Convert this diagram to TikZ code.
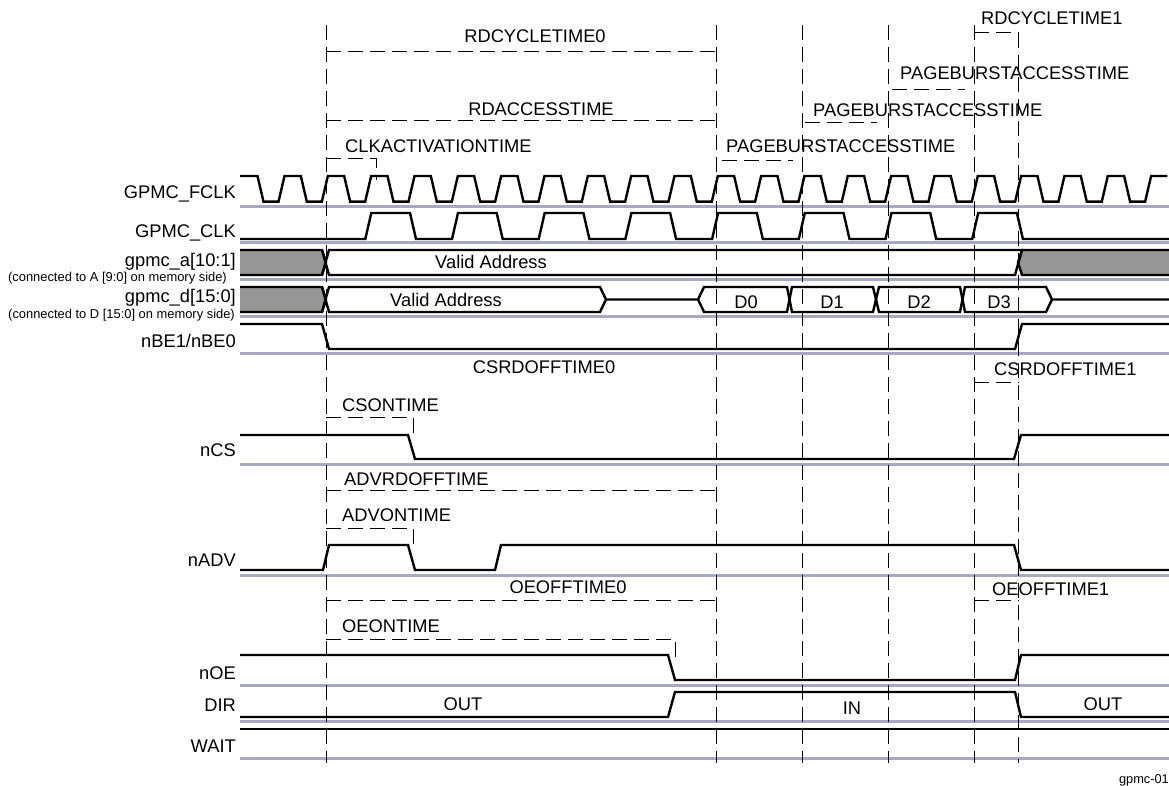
\documentclass[tikz,border=0pt]{standalone}
\usepackage{fontspec}
\setmainfont{Liberation Sans}
\definecolor{guidegray}{RGB}{166,168,198}
\definecolor{busgray}{RGB}{150,150,150}
\tikzset{
  sig/.style={line width=2.4pt,black,line join=miter},
  guide/.style={line width=3pt,guidegray},
  tick/.style={line width=1pt,black,dash pattern=on 15pt off 7pt},
  lab/.style={inner sep=0pt,anchor=base,font=\fontsize{18.3}{20}\selectfont},
  siglab/.style={lab,anchor=base east},
  timelab/.style={lab,anchor=base west},
  smalllab/.style={inner sep=0pt,anchor=base east,font=\fontsize{12.9}{14}\selectfont}
}
\begin{document}
\begin{tikzpicture}[x=1pt,y=-1pt]
  \useasboundingbox (0,0) rectangle (1169,786);
  \foreach \y in {206.5,243,279.5,316.5,353,464,575,685,721.5,758}
    \draw[guide] (240,\y) -- (1169,\y);
  \draw[tick] (326,25) -- (326,763);
  \draw[tick] (716,25) -- (716,763);
  \draw[tick] (802,25) -- (802,763);
  \draw[tick] (888.5,25) -- (888.5,763);
  \draw[tick] (974,25) -- (974,763);
  \draw[tick] (1018.5,33) -- (1018.5,763);
  \draw[tick] (326,52) -- (721,52);
  \draw[tick] (326,121) -- (721,121);
  \draw[tick] (326,159) -- (376,159) -- (376,180);
  \draw[tick] (722,161) -- (793,161);
  \draw[tick] (805,123) -- (877,123);
  \draw[tick] (892,90) -- (965,90);
  \draw[tick] (974,33) -- (1018.5,33);
  \draw[tick] (974,382) -- (1018.5,382);
  \draw[tick] (326,417) -- (413,417) -- (413,437);
  \draw[tick] (326,490) -- (716,490);
  \draw[tick] (326,528) -- (413,528) -- (413,547);
  \draw[tick] (326,600) -- (716,600);
  \draw[tick] (974,600) -- (1018.5,600);
  \draw[tick] (326,639) -- (675,639) -- (675,660);
  \draw[sig] (240,176) -- (257.5,176)
    \foreach \k in {0,...,20} { -- ++(6,25.7) -- ++(15,0) -- ++(6,-25.7) -- ++(16.33,0) };
  \draw[sig] (240,239) -- (365.3,239)
    \foreach \k in {1,...,8} { -- ++(6,-26) -- ++(38.7,0) -- ++(6,26) -- ++(36,0) } -- (1169,239);
  \draw[sig,fill=busgray] (240,250) -- (322,250) -- (326,262.5) -- (322,275) -- (240,275);
  \draw[sig,fill=busgray] (1169,250) -- (1022,250) -- (1018,262.5) -- (1022,275) -- (1169,275);
  \draw[sig] (322,250) -- (329,275) -- (1015,275) -- (1022,250) -- (1015,250) -- (329,250) -- (322,275);
  \draw[sig,fill=busgray] (240,287) -- (322,287) -- (326,299.5) -- (322,312) -- (240,312);
  \draw[sig] (322,287) -- (329,312) -- (600,312) -- (606,299.5) -- (600,287) -- (329,287) -- (322,312);
  \draw[sig] (606,299.5) -- (698,299.5) -- (704,287) -- (787,287) -- (792,312) -- (873,312) -- (879,287) -- (960,287) -- (965,312) -- (1046,312) -- (1052,299.5) -- (1169,299.5);
  \draw[sig] (698,299.5) -- (704,312) -- (787,312) -- (792,287) -- (873,287) -- (879,312) -- (960,312) -- (965,287) -- (1046,287) -- (1052,299.5);
  \draw[sig] (240,324) -- (322,324) -- (329,349) -- (1015,349) -- (1022,324) -- (1169,324);
  \draw[sig] (240,435) -- (408,435) -- (415,459) -- (1014,459) -- (1021,435) -- (1169,435);
  \draw[sig] (240,570) -- (323,570) -- (329,545) -- (408,545) -- (415,570) -- (495,570) -- (501,545) -- (1014,545) -- (1021,570) -- (1169,570);
  \draw[sig] (240,655) -- (668,655) -- (675,680) -- (1015,680) -- (1021,655) -- (1169,655);
  \draw[sig] (240,717) -- (668,717) -- (675,692) -- (1015,692) -- (1021,717) -- (1169,717);
  \draw[sig] (240,729) -- (1169,729);
  \node[siglab] (fclk) at (236,199) {GPMC\_FCLK};
  \node[siglab] (clk) at (236,238) {GPMC\_CLK};
  \node[siglab] (addr) at (236,266) {gpmc\_a[10:1]};
  \node[smalllab] (addrnote) at (227,281.5) {(connected to A [9:0] on memory side)};
  \node[siglab] (data) at (236,302) {gpmc\_d[15:0]};
  \node[smalllab] (datanote) at (235,318) {(connected to D [15:0] on memory side)};
  \node[siglab] (nbe) at (236,347) {nBE1/nBE0};
  \node[siglab] (ncs) at (236,456) {nCS};
  \node[siglab] (nadv) at (236,566) {nADV};
  \node[siglab] (noe) at (236,679) {nOE};
  \node[siglab] (dir) at (236,711) {DIR};
  \node[siglab] (wait) at (236,752) {WAIT};
  \node[lab] (rdcycle0) at (535,43) {RDCYCLETIME0};
  \node[timelab] (rdcycle1) at (981,25) {RDCYCLETIME1};
  \node[timelab] (burst2) at (900,80) {PAGEBURSTACCESSTIME};
  \node[timelab] (burst1) at (813,117) {PAGEBURSTACCESSTIME};
  \node[timelab] (burst0) at (726,153) {PAGEBURSTACCESSTIME};
  \node[lab] (rdaccess) at (541,116) {RDACCESSTIME};
  \node[timelab] (clkact) at (345,153) {CLKACTIVATIONTIME};
  \node[lab] (validaddr) at (491,269) {Valid Address};
  \node[lab] (validdata) at (446,306) {Valid Address};
  \node[lab] (dzero) at (746,308) {D0};
  \node[lab] (done) at (832,308) {D1};
  \node[lab] (dtwo) at (919,308) {D2};
  \node[lab] (dthree) at (999,308) {D3};
  \node[lab] (csoff0) at (544,373) {CSRDOFFTIME0};
  \node[timelab] (csoff1) at (994,375) {CSRDOFFTIME1};
  \node[timelab] (cson) at (342,411) {CSONTIME};
  \node[timelab] (advoff) at (344,485) {ADVRDOFFTIME};
  \node[timelab] (advon) at (342,521) {ADVONTIME};
  \node[lab] (oeoff0) at (568,593) {OEOFFTIME0};
  \node[timelab] (oeoff1) at (992,595) {OEOFFTIME1};
  \node[timelab] (oeon) at (342,632) {OEONTIME};
  \node[lab] (dirout0) at (463,710) {OUT};
  \node[lab] (dirin) at (852,714) {IN};
  \node[lab] (dirout1) at (1103,710) {OUT};
  \node[inner sep=0pt,anchor=base east,font=\fontsize{12.8}{14}\selectfont] (figid) at (1169,783) {gpmc-01};
\end{tikzpicture}
\end{document}
